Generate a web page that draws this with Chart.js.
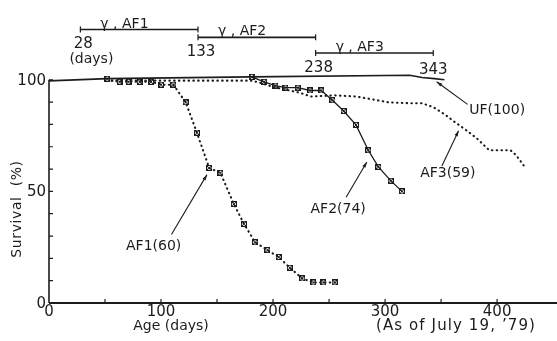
<!DOCTYPE html>
<html>
<head>
<meta charset="utf-8">
<title>Survival by age</title>
<script src="https://cdn.jsdelivr.net/npm/chart.js@4.4.1/dist/chart.umd.min.js"></script>
<style>
  html, body { margin: 0; padding: 0; background: #fff; }
  #wrap { width: 557px; height: 341px; }
</style>
</head>
<body>
<div id="wrap"><canvas id="survival" width="557" height="341"></canvas></div>
<script>
// age (days) / survival (%) per group
const ufDays = [0, 52, 180, 322, 333, 344, 353];
const ufSurvival = [99.5, 100.5, 101.3, 102, 101, 100.5, 100];

const af1Days = [56, 63, 71, 81, 91, 100, 111, 122, 132, 143, 153, 165, 174, 184, 195, 205, 215, 226, 236, 245, 255];
const af1Survival = [99.6, 99.1, 99.1, 99.1, 99.1, 97.8, 97.8, 89.9, 76.3, 60.5, 58.3, 44.3, 35.5, 27.2, 23.7, 20.6, 15.8, 11, 9.2, 9.2, 9.2];

const af2Days = [181, 192, 202, 211, 222, 233, 243, 253, 263, 274, 285, 294, 305, 315];
const af2Survival = [101.3, 99.1, 97.4, 96.5, 96.5, 95.2, 95.2, 90.8, 86, 79.8, 68.4, 61, 54.8, 50];

const af3Days = [56, 181, 188, 199, 223, 234, 255, 274, 289, 303, 321, 333, 343, 353, 362, 373, 382, 393, 412, 417, 424];
const af3Survival = [99.6, 99.6, 98.7, 96.9, 94.3, 92.5, 93, 92.5, 91.2, 89.9, 89.5, 89.5, 87.7, 84.6, 81.1, 77.2, 73.7, 68.4, 68.4, 66.2, 61.4];

// irradiation periods (days)
const periodNames = ['\u03b3 , AF1', '\u03b3 , AF2', '\u03b3 , AF3'];
const periodStart = [28, 133, 238];
const periodEnd = [133, 238, 343];

// axis ticks
const xTickValues = [0, 100, 200, 300, 400];
const yTickValues = [0, 50, 100];

// ---- layout ----
const FONT = '"DejaVu Sans", sans-serif';
const INK = '#1c1c1c';
const barLevels = [122.5, 119, 112];   // y value where each period bar sits
const callouts = [
  { label: 'UF(100)', tip: [346, 99.1], tail: [373.6, 89], at: [400, 86.4] },
  { label: 'AF3(59)', tip: [365.6, 77.2], tail: [350.7, 61.4], at: [356, 57.9] },
  { label: 'AF2(74)', tip: [283.7, 63.2], tail: [265.2, 47.4], at: [258.1, 42.1] },
  { label: 'AF1(60)', tip: [141, 57.5], tail: [109.3, 30.7], at: [93.4, 25.4] }
];

const toPoints = (xs, ys) => xs.map((d, i) => ({ x: d, y: ys[i] }));

// little boxed-cross marker
function makeMarker() {
  const c = document.createElement('canvas');
  c.width = 6; c.height = 6;
  const g = c.getContext('2d');
  g.strokeStyle = INK;
  g.lineWidth = 1;
  g.strokeRect(0.5, 0.5, 5, 5);
  g.beginPath();
  g.moveTo(1, 1); g.lineTo(5, 5);
  g.moveTo(5, 1); g.lineTo(1, 5);
  g.stroke();
  return c;
}
const marker = makeMarker();

function text(ctx, s, px, py, align, base, size) {
  ctx.font = (size || 14) + 'px ' + FONT;
  ctx.textAlign = align || 'center';
  ctx.textBaseline = base || 'middle';
  ctx.fillText(s, px, py);
}

const paperAxes = {
  id: 'paperAxes',
  beforeDatasetsDraw(chart) {
    const { ctx, scales: { x, y } } = chart;
    const x0 = x.getPixelForValue(0);
    const y0 = y.getPixelForValue(0);
    ctx.save();
    ctx.strokeStyle = INK;
    ctx.fillStyle = INK;

    // axis lines
    ctx.lineWidth = 1.6;
    ctx.beginPath();
    ctx.moveTo(x0, y0);
    ctx.lineTo(x0, y.getPixelForValue(100));
    ctx.stroke();
    ctx.lineWidth = 2;
    ctx.beginPath();
    ctx.moveTo(x0, y0);
    ctx.lineTo(chart.width, y0);
    ctx.stroke();

    // inside ticks
    ctx.lineWidth = 1.2;
    ctx.beginPath();
    for (let v = 10; v <= 100; v += 10) {
      const py = y.getPixelForValue(v);
      ctx.moveTo(x0, py);
      ctx.lineTo(x0 + 4, py);
    }
    for (let d = 50; d <= 400; d += 50) {
      const px = x.getPixelForValue(d);
      ctx.moveTo(px, y0);
      ctx.lineTo(px, y0 - 4);
    }
    ctx.stroke();

    // tick labels
    yTickValues.forEach(v => text(ctx, String(v), x0 - 3, y.getPixelForValue(v) + 1, 'right', 'middle', 15));
    xTickValues.forEach(d => text(ctx, String(d), x.getPixelForValue(d), y0 + 2, 'center', 'top', 15));

    // axis titles
    text(ctx, 'Age (days)', 171, 326, 'center', 'middle', 14);
    ctx.save();
    ctx.font = '15px ' + FONT;
    ctx.letterSpacing = '1.1px';
    ctx.textAlign = 'left';
    ctx.textBaseline = 'middle';
    ctx.fillText('(As of July 19, \u201979)', 376, 326);
    ctx.restore();
    ctx.save();
    ctx.translate(17, 209);
    ctx.rotate(-Math.PI / 2);
    ctx.font = '14px ' + FONT;
    ctx.letterSpacing = '0.6px';
    ctx.textAlign = 'center';
    ctx.textBaseline = 'middle';
    ctx.fillText('Survival  (%)', 0, 0);
    ctx.restore();
    ctx.restore();
  },
  afterDatasetsDraw(chart) {
    const { ctx, scales: { x, y } } = chart;
    ctx.save();
    ctx.strokeStyle = INK;
    ctx.fillStyle = INK;

    // irradiation period bars
    periodStart.forEach((s, i) => {
      const xs = x.getPixelForValue(s);
      const xe = x.getPixelForValue(periodEnd[i]);
      const py = y.getPixelForValue(barLevels[i]);
      ctx.lineWidth = 1.6;
      ctx.beginPath();
      ctx.moveTo(xs, py); ctx.lineTo(xe, py);
      ctx.stroke();
      ctx.lineWidth = 1.2;
      ctx.beginPath();
      ctx.moveTo(xs, py - 3); ctx.lineTo(xs, py + 3);
      ctx.moveTo(xe, py - 3); ctx.lineTo(xe, py + 3);
      ctx.stroke();
      text(ctx, periodNames[i], xs + 20, py - 2, 'left', 'alphabetic', 14);
      text(ctx, String(s), xs + 3, py + 15, 'center', 'middle', 15);
      if (i === 0) text(ctx, '(days)', xs + 11, py + 30, 'center', 'middle', 14);
      if (i === periodStart.length - 1) text(ctx, String(periodEnd[i]), xe, py + 17, 'center', 'middle', 15);
    });

    // group labels with arrows
    callouts.forEach(c => {
      const tx = x.getPixelForValue(c.tip[0]), ty = y.getPixelForValue(c.tip[1]);
      const sx = x.getPixelForValue(c.tail[0]), sy = y.getPixelForValue(c.tail[1]);
      const ang = Math.atan2(ty - sy, tx - sx);
      ctx.lineWidth = 1.1;
      ctx.beginPath();
      ctx.moveTo(sx, sy); ctx.lineTo(tx, ty);
      ctx.stroke();
      ctx.beginPath();
      ctx.moveTo(tx, ty);
      ctx.lineTo(tx - 6 * Math.cos(ang - 0.3), ty - 6 * Math.sin(ang - 0.3));
      ctx.lineTo(tx - 6 * Math.cos(ang + 0.3), ty - 6 * Math.sin(ang + 0.3));
      ctx.closePath();
      ctx.fill();
      text(ctx, c.label, x.getPixelForValue(c.at[0]), y.getPixelForValue(c.at[1]), 'center', 'middle', 14);
    });
    ctx.restore();
  }
};

const dotted = { borderDash: [0.5, 4.3], borderCapStyle: 'round', borderWidth: 2.1 };

new Chart(document.getElementById('survival').getContext('2d'), {
  type: 'line',
  data: {
    datasets: [
      {
        label: 'UF', data: toPoints(ufDays, ufSurvival),
        borderColor: INK, borderWidth: 1.6,
        pointStyle: marker, pointRadius: ctx => ctx.dataIndex === 1 ? 3 : 0
      },
      Object.assign({
        label: 'AF1', data: toPoints(af1Days, af1Survival),
        borderColor: INK,
        pointStyle: marker, pointRadius: ctx => ctx.dataIndex === 0 ? 0 : 3
      }, dotted),
      {
        label: 'AF2', data: toPoints(af2Days, af2Survival),
        borderColor: INK, borderWidth: 1.3,
        pointStyle: marker, pointRadius: 3
      },
      Object.assign({
        label: 'AF3', data: toPoints(af3Days, af3Survival),
        borderColor: INK, pointRadius: 0
      }, dotted)
    ]
  },
  options: {
    responsive: false,
    animation: false,
    devicePixelRatio: 1,
    layout: { padding: { left: 49, right: 0, top: 0, bottom: 38 } },
    elements: { line: { tension: 0 } },
    plugins: { legend: { display: false }, tooltip: { enabled: false } },
    scales: {
      x: { type: 'linear', min: 0, max: 448, display: false },
      y: { type: 'linear', min: 0, max: 133, display: false }
    }
  },
  plugins: [paperAxes]
});
</script>
</body>
</html>
